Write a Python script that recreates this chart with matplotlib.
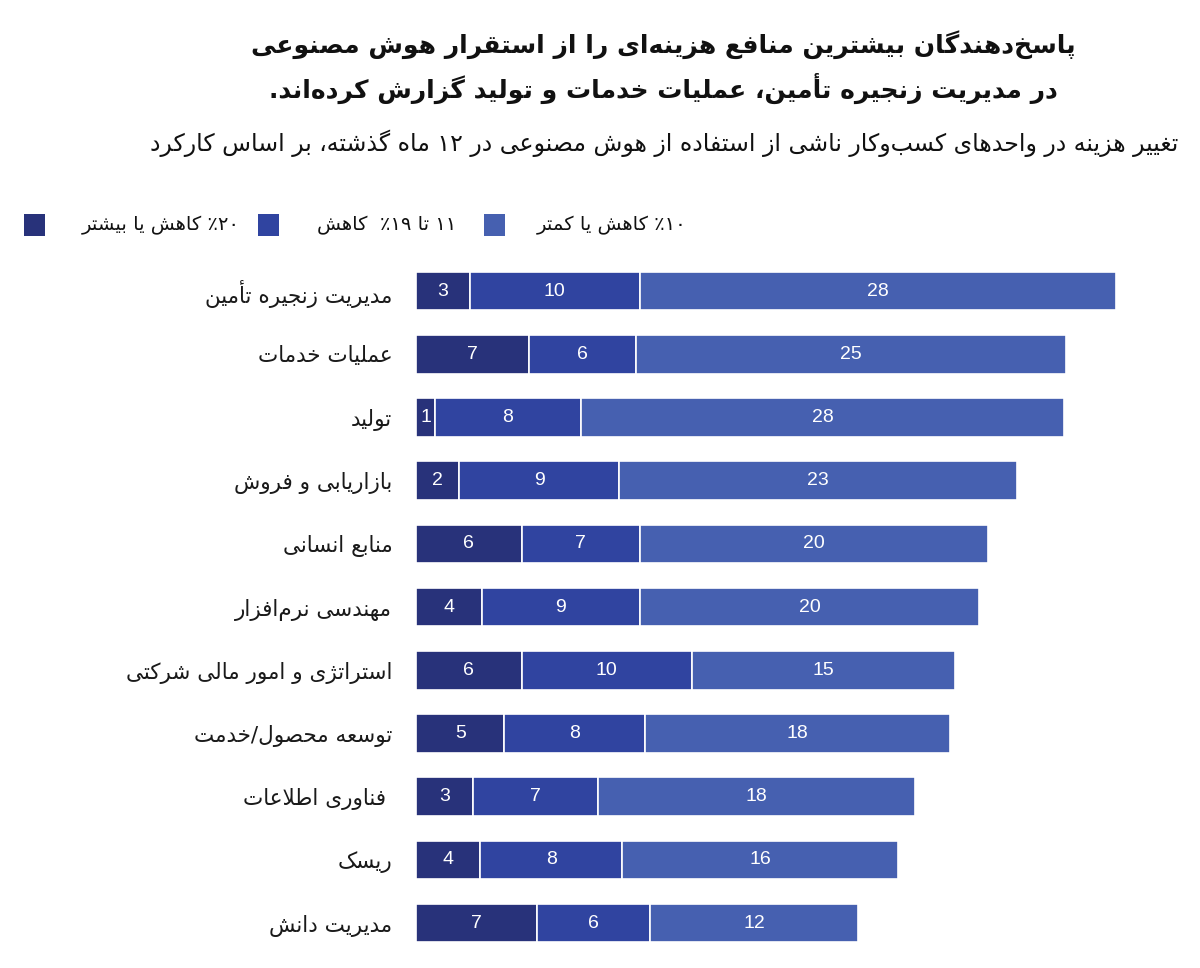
import re
import unicodedata

import matplotlib
matplotlib.use("Agg")
import matplotlib.pyplot as plt
import numpy as np
from matplotlib.patches import Rectangle

# ---- data -------------------------------------------------------------
categories = [
    "مدیریت زنجیره تأمین",
    "عملیات خدمات",
    "تولید",
    "بازاریابی و فروش",
    "منابع انسانی",
    "مهندسی نرم‌افزار",
    "استراتژی و امور مالی شرکتی",
    "توسعه محصول/خدمت",
    " فناوری اطلاعات",
    "ریسک",
    "مدیریت دانش",
]

# segment lengths (percent of respondents)
cut_20_plus = [3.1, 6.5, 1.1, 2.5, 6.1, 3.8, 6.1, 5.1, 3.3, 3.7, 7.0]
cut_11_19 = [9.8, 6.2, 8.4, 9.2, 6.8, 9.1, 9.8, 8.1, 7.2, 8.2, 6.5]
cut_10_less = [27.5, 24.8, 27.9, 23.0, 20.1, 19.6, 15.2, 17.6, 18.3, 15.9, 12.0]

# numbers printed inside the bars
labels_20_plus = ["3", "7", "1", "2", "6", "4", "6", "5", "3", "4", "7"]
labels_11_19 = ["10", "6", "8", "9", "7", "9", "10", "8", "7", "8", "6"]
labels_10_less = ["28", "25", "28", "23", "20", "20", "15", "18", "18", "16", "12"]

series_names = ["۲۰٪ کاهش یا بیشتر", "۱۱ تا ۱۹٪  کاهش", "۱۰٪ کاهش یا کمتر"]
colors = ["#28327a", "#3044a0", "#4660b0"]

title_lines = [
    "پاسخ‌دهندگان بیشترین منافع هزینه‌ای را از استقرار هوش مصنوعی",
    "در مدیریت زنجیره تأمین، عملیات خدمات و تولید گزارش کرده‌اند.",
]
subtitle = "تغییر هزینه در واحدهای کسب‌وکار ناشی از استفاده از هوش مصنوعی در ۱۲ ماه گذشته، بر اساس کارکرد"

# ---- minimal persian shaping (matplotlib has no bidi / joining) -------
FORMS = {
    "\u0621": ("\uFE80", None, None, None),
    "\u0622": ("\uFE81", "\uFE82", None, None),
    "\u0623": ("\uFE83", "\uFE84", None, None),
    "\u0624": ("\uFE85", "\uFE86", None, None),
    "\u0625": ("\uFE87", "\uFE88", None, None),
    "\u0626": ("\uFE89", "\uFE8A", "\uFE8B", "\uFE8C"),
    "\u0627": ("\uFE8D", "\uFE8E", None, None),
    "\u0628": ("\uFE8F", "\uFE90", "\uFE91", "\uFE92"),
    "\u0629": ("\uFE93", "\uFE94", None, None),
    "\u062A": ("\uFE95", "\uFE96", "\uFE97", "\uFE98"),
    "\u062B": ("\uFE99", "\uFE9A", "\uFE9B", "\uFE9C"),
    "\u062C": ("\uFE9D", "\uFE9E", "\uFE9F", "\uFEA0"),
    "\u062D": ("\uFEA1", "\uFEA2", "\uFEA3", "\uFEA4"),
    "\u062E": ("\uFEA5", "\uFEA6", "\uFEA7", "\uFEA8"),
    "\u062F": ("\uFEA9", "\uFEAA", None, None),
    "\u0630": ("\uFEAB", "\uFEAC", None, None),
    "\u0631": ("\uFEAD", "\uFEAE", None, None),
    "\u0632": ("\uFEAF", "\uFEB0", None, None),
    "\u0633": ("\uFEB1", "\uFEB2", "\uFEB3", "\uFEB4"),
    "\u0634": ("\uFEB5", "\uFEB6", "\uFEB7", "\uFEB8"),
    "\u0635": ("\uFEB9", "\uFEBA", "\uFEBB", "\uFEBC"),
    "\u0636": ("\uFEBD", "\uFEBE", "\uFEBF", "\uFEC0"),
    "\u0637": ("\uFEC1", "\uFEC2", "\uFEC3", "\uFEC4"),
    "\u0638": ("\uFEC5", "\uFEC6", "\uFEC7", "\uFEC8"),
    "\u0639": ("\uFEC9", "\uFECA", "\uFECB", "\uFECC"),
    "\u063A": ("\uFECD", "\uFECE", "\uFECF", "\uFED0"),
    "\u0641": ("\uFED1", "\uFED2", "\uFED3", "\uFED4"),
    "\u0642": ("\uFED5", "\uFED6", "\uFED7", "\uFED8"),
    "\u0643": ("\uFED9", "\uFEDA", "\uFEDB", "\uFEDC"),
    "\u0644": ("\uFEDD", "\uFEDE", "\uFEDF", "\uFEE0"),
    "\u0645": ("\uFEE1", "\uFEE2", "\uFEE3", "\uFEE4"),
    "\u0646": ("\uFEE5", "\uFEE6", "\uFEE7", "\uFEE8"),
    "\u0647": ("\uFEE9", "\uFEEA", "\uFEEB", "\uFEEC"),
    "\u0648": ("\uFEED", "\uFEEE", None, None),
    "\u0649": ("\uFEEF", "\uFEF0", None, None),
    "\u064A": ("\uFEF1", "\uFEF2", "\uFEF3", "\uFEF4"),
    "\u067E": ("\uFB56", "\uFB57", "\uFB58", "\uFB59"),
    "\u0686": ("\uFB7A", "\uFB7B", "\uFB7C", "\uFB7D"),
    "\u0698": ("\uFB8A", "\uFB8B", None, None),
    "\u06A9": ("\uFB8E", "\uFB8F", "\uFB90", "\uFB91"),
    "\u06AF": ("\uFB92", "\uFB93", "\uFB94", "\uFB95"),
    "\u06CC": ("\uFBFC", "\uFBFD", "\uFBFE", "\uFBFF"),
}
LAM_ALEF = {
    "\u0622": ("\uFEF5", "\uFEF6"),
    "\u0623": ("\uFEF7", "\uFEF8"),
    "\u0625": ("\uFEF9", "\uFEFA"),
    "\u0627": ("\uFEFB", "\uFEFC"),
}


def joins_next(c):
    f = FORMS.get(c)
    return f is not None and f[2] is not None


def joins_prev(c):
    f = FORMS.get(c)
    return f is not None and f[1] is not None


def shape(text):
    chars = list(unicodedata.normalize("NFC", text))
    out = []
    i = 0
    while i < len(chars):
        c = chars[i]
        if c not in FORMS:
            if c != "\u200c":
                out.append(c)
            i += 1
            continue
        prev = chars[i - 1] if i > 0 else ""
        nxt = chars[i + 1] if i + 1 < len(chars) else ""
        link_prev = joins_next(prev) and joins_prev(c)
        if c == "\u0644" and nxt in LAM_ALEF:
            iso, fin = LAM_ALEF[nxt]
            out.append(fin if link_prev else iso)
            i += 2
            continue
        link_next = joins_next(c) and joins_prev(nxt)
        iso, fin, ini, med = FORMS[c]
        if link_prev and link_next:
            out.append(med)
        elif link_prev:
            out.append(fin)
        elif link_next:
            out.append(ini)
        else:
            out.append(iso)
        i += 1
    return "".join(out)


def rtl(text):
    s = shape(text)[::-1]
    # digit runs stay left-to-right
    return re.sub(r"[0-9\u0660-\u0669\u06F0-\u06F9]+", lambda m: m.group(0)[::-1], s)


# ---- figure -----------------------------------------------------------
W, H = 1200, 968
FA = "DejaVu Sans"
NUM = "Liberation Sans"
px_per_unit = 17.33

fig = plt.figure(figsize=(W / 100, H / 100), dpi=100)
fig.patch.set_facecolor("white")

ax = fig.add_axes([416 / W, 8 / H, (W - 416) / W, 705 / H])
y = np.arange(len(categories))
left = np.zeros(len(categories))
for vals, labs, col in zip([cut_20_plus, cut_11_19, cut_10_less],
                           [labels_20_plus, labels_11_19, labels_10_less], colors):
    vals = np.array(vals)
    ax.barh(y, vals, left=left, height=0.61, color=col, edgecolor="white", linewidth=1.2)
    for yi, l, v, lab in zip(y, left, vals, labs):
        ax.text(l + v / 2, yi, lab, ha="center", va="center", color="white",
                fontsize=14, family=NUM)
    left += vals

ax.set_xlim(0, (W - 416) / px_per_unit)
ax.set_ylim(10.585, -0.57)
ax.set_yticks(y)
ax.set_yticklabels([rtl(c) for c in categories], family=FA, fontsize=15.5, color="#1a1a1a")
ax.tick_params(axis="y", length=0, pad=17)
ax.set_xticks([])
for s in ax.spines.values():
    s.set_visible(False)

# title + subtitle
fig.text(663 / W, 1 - 45 / H, rtl(title_lines[0]), ha="center", va="center",
         family=FA, weight="bold", fontsize=18, color="#111111")
fig.text(663 / W, 1 - 88 / H, rtl(title_lines[1]), ha="center", va="center",
         family=FA, weight="bold", fontsize=18, color="#111111")
fig.text(1178 / W, 1 - 143 / H, rtl(subtitle), ha="right", va="center",
         family=FA, fontsize=17, color="#111111")

# legend (square to the left of each label)
legend_squares = [24, 258, 484]
legend_text_right = [240, 456, 686]
for name, col, sx, tx in zip(series_names, colors, legend_squares, legend_text_right):
    fig.patches.append(Rectangle((sx / W, 1 - 236 / H), 21 / W, 22 / H,
                                 transform=fig.transFigure, facecolor=col, edgecolor="none"))
    fig.text(tx / W, 1 - 225 / H, rtl(name), ha="right", va="center",
             family=FA, fontsize=14, color="#111111")

fig.savefig("out.png", dpi=100)
